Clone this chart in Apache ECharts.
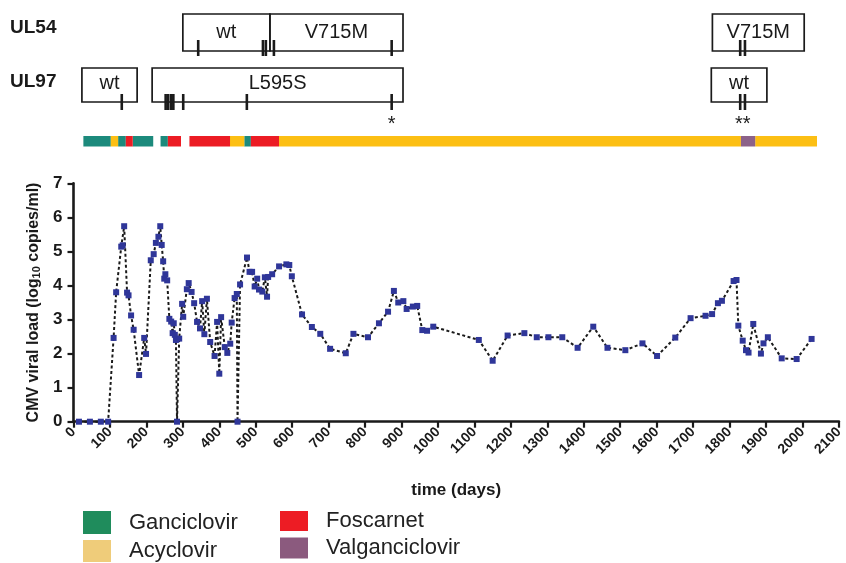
<!DOCTYPE html>
<html>
<head>
    <meta charset="utf-8">
    <title>CMV viral load</title>
    <script src="https://cdn.jsdelivr.net/npm/echarts@6/dist/echarts.min.js"></script>
</head>
<style>
    html, body { margin: 0; padding: 0; background: #fff; }
    #chart { width: 846px; height: 563px; }
</style>
<body>
<div id="chart"></div>

<script>
    // viral load: [day, log10 copies/ml]
    var loadDays = [15, 45, 75, 95, 110, 117, 131, 135, 139, 147, 151, 158, 165, 180, 194, 199,
        212, 220, 226, 233, 238, 242, 246, 249, 252, 257, 263, 268, 272, 275, 278, 281, 284, 290,
        298, 301, 311, 316, 324, 331, 339, 347, 353, 359, 366, 375, 387, 394, 400, 405, 415, 422,
        430, 434, 442, 448, 450, 457, 476, 483, 490, 497, 504, 509, 518, 525, 531, 534, 545, 564,
        584, 592, 599, 627, 654, 677, 704, 747, 768, 808, 838, 863, 879, 891, 905, 914, 931, 943,
        957, 970, 987, 1112, 1150, 1191, 1237, 1271, 1303, 1341, 1383, 1426, 1465, 1514, 1561,
        1601, 1651, 1693, 1734, 1752, 1768, 1779, 1811, 1819, 1824, 1836, 1845, 1852, 1865, 1886,
        1893, 1905, 1943, 1984, 2025];
    var loadValues = [0, 0, 0, 0, 2.46, 3.8, 5.14, 5.18, 5.74, 3.79, 3.71, 3.12, 2.7, 1.37, 2.46, 1.99,
        4.74, 4.92, 5.25, 5.43, 5.74, 5.19, 4.71, 4.2, 4.33, 4.15, 3.02, 2.94, 2.6, 2.89, 2.55, 2.4, 0, 2.44,
        3.46, 3.08, 3.89, 4.07, 3.81, 3.48, 2.93, 2.74, 3.54, 2.57, 3.61, 2.34, 1.93, 2.93, 1.41, 3.07, 2.19, 2.02,
        2.29, 2.91, 3.63, 3.75, 0, 4.03, 4.82, 4.4, 4.4, 3.97, 4.2, 3.88, 3.82, 4.24, 3.67, 4.25, 4.33, 4.56,
        4.62, 4.6, 4.27, 3.15, 2.78, 2.58, 2.14, 2.01, 2.58, 2.48, 2.89, 3.23, 3.84, 3.5, 3.54, 3.31, 3.38, 3.4,
        2.69, 2.67, 2.79, 2.4, 1.79, 2.53, 2.6, 2.48, 2.48, 2.48, 2.17, 2.79, 2.17, 2.1, 2.3,
        1.93, 2.47, 3.04, 3.11, 3.16, 3.48, 3.55, 4.13, 4.16, 2.82, 2.38, 2.1, 2.03, 2.87, 2.0,
        2.3, 2.48, 1.86, 1.84, 2.43];

    // genotype boxes: [startDay, endDay, label]
    var ul54Boxes = [[299, 537, 'wt'], [537, 901, 'V715M'], [1747, 1998, 'V715M']];
    var ul97Boxes = [[23, 174, 'wt'], [215, 901, 'L595S'], [1744, 1896, 'wt']];
    // sampling days marked on the genotype lines
    var ul54Ticks = [341, 518, 526, 548, 870, 1823, 1836];
    var ul97Ticks = [132, 252, 259, 267, 273, 300, 474, 870, 1823, 1836];
    var stars = [[870, '*'], [1830, '**']];

    // treatment periods: [startDay, endDay]
    var ganciclovir = [[27, 102], [122, 143], [162, 218], [238, 258], [467, 485]];
    var acyclovir = [[102, 122], [428, 467], [562, 1825], [1864, 2033]];
    var foscarnet = [[143, 162], [258, 294], [317, 428], [485, 562]];
    var valganciclovir = [[1825, 1864]];

    var xTicks = [0, 2100, 100];
    var yTicks = [0, 7, 1];

    var barColors = { 'Ganciclovir': '#1c8a7c', 'Acyclovir': '#fcbf14', 'Foscarnet': '#ec1c24', 'Valganciclovir': '#8c6289' };
    var legendColors = { 'Ganciclovir': '#1f8c5c', 'Acyclovir': '#efcc7a', 'Foscarnet': '#ed1c24', 'Valganciclovir': '#8b5a7e' };

    var FONT = "'Liberation Sans', Arial, sans-serif";
    var INK = '#1a1a1a';

    // rows of the top panel (in panel units, 0 at top)
    var rows = {
        ul54: { top: 14, bottom: 51, text: 32, tickTop: 40, tickBottom: 56 },
        ul97: { top: 68, bottom: 102, text: 83, tickTop: 94, tickBottom: 110 },
        star: 124,
        bar: { top: 136, bottom: 146.5 }
    };

    var loadData = loadDays.map(function (d, i) { return [d, loadValues[i]]; });

    function boxSeries(boxes, row) {
        return {
            type: 'custom', xAxisIndex: 1, yAxisIndex: 1, silent: true,
            data: boxes.map(function (b) { return [b[0], b[1]]; }),
            renderItem: function (params, api) {
                var b = boxes[params.dataIndex];
                var p0 = api.coord([b[0], row.top]);
                var p1 = api.coord([b[1], row.bottom]);
                var ty = api.coord([b[0], row.text])[1];
                return {
                    type: 'group', children: [
                        { type: 'rect', shape: { x: p0[0], y: p0[1], width: p1[0] - p0[0], height: p1[1] - p0[1] },
                          style: { fill: 'none', stroke: INK, lineWidth: 1.7 } },
                        { type: 'text', style: { text: b[2], x: (p0[0] + p1[0]) / 2, y: ty, align: 'center', verticalAlign: 'middle',
                          font: '20px ' + FONT, fill: INK } }
                    ]
                };
            }
        };
    }

    function tickSeries(ticks, row) {
        return {
            type: 'custom', xAxisIndex: 1, yAxisIndex: 1, silent: true,
            data: ticks.map(function (t) { return [t]; }),
            renderItem: function (params, api) {
                var a = api.coord([api.value(0), row.tickTop]);
                var b = api.coord([api.value(0), row.tickBottom]);
                return { type: 'line', shape: { x1: a[0], y1: a[1], x2: b[0], y2: b[1] },
                         style: { stroke: INK, lineWidth: 2.6 } };
            }
        };
    }

    function drugSeries(name, periods) {
        return {
            name: name, type: 'custom', xAxisIndex: 1, yAxisIndex: 1, silent: true,
            itemStyle: { color: legendColors[name] },
            data: periods,
            renderItem: function (params, api) {
                var p0 = api.coord([api.value(0), rows.bar.top]);
                var p1 = api.coord([api.value(1), rows.bar.bottom]);
                return { type: 'rect', shape: { x: p0[0], y: p0[1], width: p1[0] - p0[0], height: p1[1] - p0[1] },
                         style: { fill: barColors[name] } };
            }
        };
    }

    // one legend per entry so each sits where the original puts it
    function legendItem(name, left, top, h) {
        return {
            left: left, top: top, padding: 0, itemWidth: 28, itemHeight: h,
            icon: 'rect', selectedMode: false,
            textStyle: { fontSize: 22, color: '#222', fontFamily: FONT, padding: [0, 0, 0, 13] },
            data: [{ name: name, itemStyle: { color: legendColors[name] } }]
        };
    }

    var chart = echarts.init(document.getElementById('chart'));

    var option = {
        animation: false,
        textStyle: { fontFamily: FONT },
        grid: [
            { left: 73.5, right: 4.5, top: 183.3, height: 238.4 },
            { left: 73.5, right: 4.5, top: 0, height: 150 }
        ],
        xAxis: [{
            gridIndex: 0, type: 'value', min: xTicks[0], max: xTicks[1], interval: xTicks[2],
            name: 'time (days)', nameLocation: 'middle', nameGap: 60,
            nameTextStyle: { fontSize: 17, fontWeight: 'bold', color: INK, fontFamily: FONT },
            axisLine: { lineStyle: { color: INK, width: 2.6 } },
            axisTick: { length: 6, lineStyle: { color: INK, width: 2.2 } },
            axisLabel: { rotate: 45, margin: 8, fontSize: 14, fontWeight: 'bold', color: INK, fontFamily: FONT,
                         formatter: function (v) { return String(v); } },
            splitLine: { show: false }
        }, {
            gridIndex: 1, type: 'value', min: xTicks[0], max: xTicks[1], show: false
        }],
        yAxis: [{
            gridIndex: 0, type: 'value', min: yTicks[0], max: yTicks[1], interval: yTicks[2],
            name: '{n|CMV viral load (log}{s|10}{n| copies/ml)}', nameLocation: 'middle', nameGap: 30,
            nameTextStyle: {
                rich: {
                    n: { fontSize: 16, fontWeight: 'bold', color: INK, fontFamily: FONT },
                    s: { fontSize: 11, fontWeight: 'bold', color: INK, fontFamily: FONT, verticalAlign: 'bottom', padding: [6, 0, 0, 0] }
                }
            },
            axisLine: { show: true, lineStyle: { color: INK, width: 2.6 } },
            axisTick: { show: true, length: 6, lineStyle: { color: INK, width: 2.2 } },
            axisLabel: { margin: 11, fontSize: 17, fontWeight: 'bold', color: INK, fontFamily: FONT },
            splitLine: { show: false }
        }, {
            gridIndex: 1, type: 'value', min: 0, max: 150, inverse: true, show: false
        }],
        legend: [
            legendItem('Ganciclovir', 83, 511, 23),
            legendItem('Acyclovir', 83, 540, 22),
            legendItem('Foscarnet', 280, 510, 20),
            legendItem('Valganciclovir', 280, 537, 21)
        ],
        graphic: [
            { type: 'text', left: 10, top: 18, style: { text: 'UL54', font: 'bold 19px ' + FONT, fill: INK } },
            { type: 'text', left: 10, top: 72, style: { text: 'UL97', font: 'bold 19px ' + FONT, fill: INK } }
        ],
        series: [
            {
                name: 'load', type: 'line', xAxisIndex: 0, yAxisIndex: 0,
                data: loadData,
                symbol: 'rect', symbolSize: 6,
                itemStyle: { color: '#2f3699' },
                lineStyle: { color: INK, width: 2, type: [3, 2.5] },
                clip: false
            },
            boxSeries(ul54Boxes, rows.ul54),
            boxSeries(ul97Boxes, rows.ul97),
            tickSeries(ul54Ticks, rows.ul54),
            tickSeries(ul97Ticks, rows.ul97),
            {
                type: 'custom', xAxisIndex: 1, yAxisIndex: 1, silent: true,
                data: stars.map(function (s) { return [s[0]]; }),
                renderItem: function (params, api) {
                    var p = api.coord([api.value(0), rows.star]);
                    return { type: 'text', style: { text: stars[params.dataIndex][1], x: p[0], y: p[1],
                             align: 'center', verticalAlign: 'middle', font: '20px ' + FONT, fill: INK } };
                }
            },
            drugSeries('Ganciclovir', ganciclovir),
            drugSeries('Acyclovir', acyclovir),
            drugSeries('Foscarnet', foscarnet),
            drugSeries('Valganciclovir', valganciclovir)
        ]
    };
    chart.setOption(option);
</script>
</body>
</html>
